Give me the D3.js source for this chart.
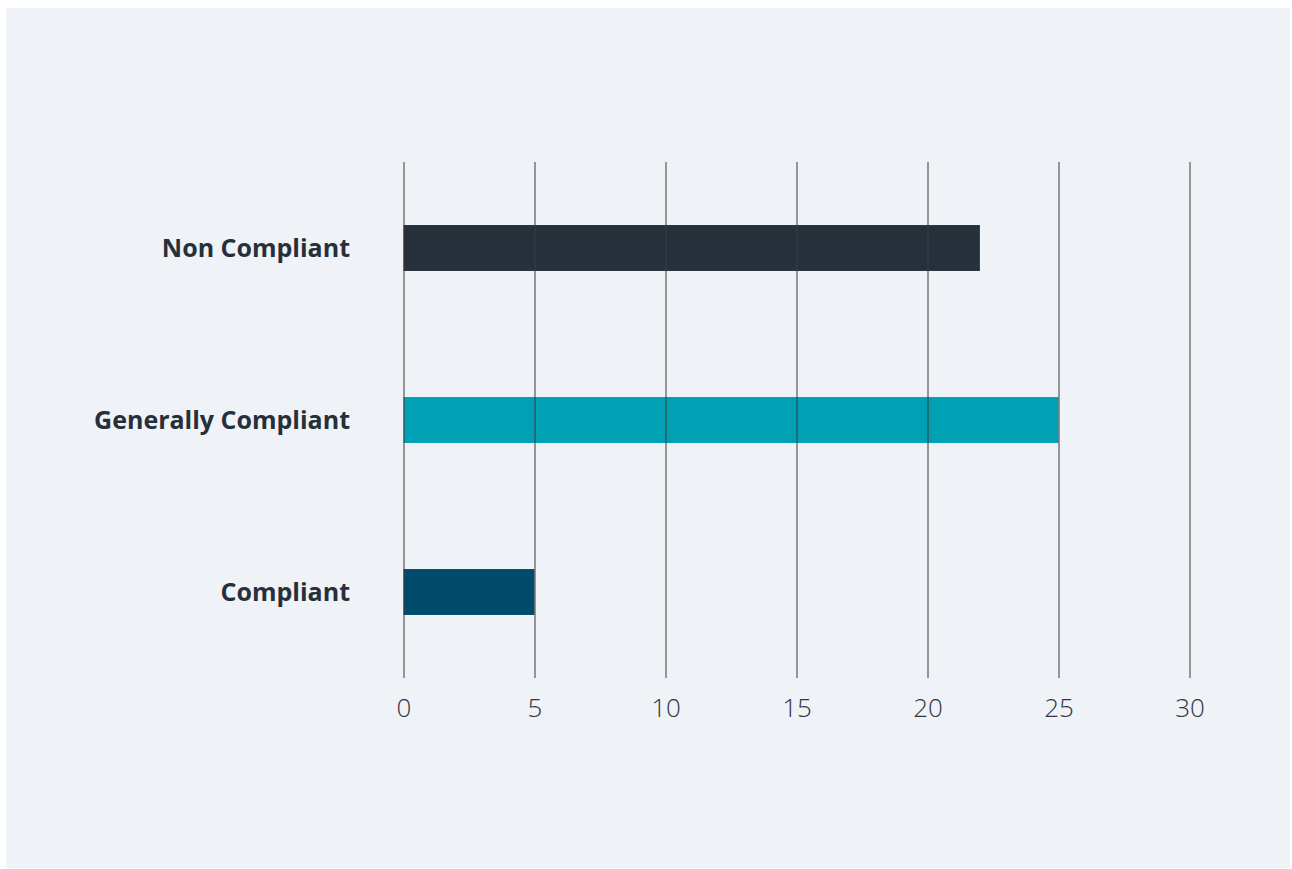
<!DOCTYPE html>
<html>
<head>
<meta charset="utf-8">
<script src="https://cdn.jsdelivr.net/npm/d3@7"></script>
<style>
  body { margin: 0; background: #fff; }
  svg { display: block; }
</style>
</head>
<body>
<svg id="chart" width="1292" height="869"></svg>
<script>
// chart data
var categories = ["Non Compliant", "Generally Compliant", "Compliant"];
var values = [22, 25, 5];
var colors = ["#25303b", "#00a0b5", "#004b6b"];
var ticks = [0, 5, 10, 15, 20, 25, 30];

var svg = d3.select("#chart");

// panel background
svg.append("rect")
    .attr("x", 6).attr("y", 8)
    .attr("width", 1284).attr("height", 860)
    .attr("fill", "#eff2f7");

var plot_left = 403.5, plot_right = 1189.5, plot_top = 162, plot_bottom = 678;

var x = d3.scaleLinear().domain([0, 30]).range([plot_left, plot_right]);
var y = d3.scaleBand().domain(categories).range([plot_top, plot_bottom])
    .paddingInner(0.733).paddingOuter(0.3665);

// bars first, gridlines go over them
svg.selectAll(".bar")
    .data(categories).enter()
    .append("rect")
    .attr("class", "bar")
    .attr("x", x(0))
    .attr("y", function (d) { return y(d); })
    .attr("width", function (d, i) { return x(values[i]) - x(0); })
    .attr("height", y.bandwidth())
    .attr("fill", function (d, i) { return colors[i]; });

// vertical grid + tick labels
var xAxis = d3.axisBottom(x).tickValues(ticks).tickSize(-(plot_bottom - plot_top)).tickPadding(21);
var g = svg.append("g")
    .attr("transform", "translate(0," + plot_bottom + ")")
    .call(xAxis);
g.select(".domain").remove();
g.selectAll(".tick line").attr("stroke", "#3a3a3a").attr("stroke-width", 1);
g.selectAll(".tick text")
    .attr("fill", "#2f3640")
    .style("font-family", "'Open Sans', sans-serif")
    .style("font-size", "26px")
    .style("font-weight", 300);

// category labels
svg.selectAll(".cat")
    .data(categories).enter()
    .append("text")
    .attr("class", "cat")
    .attr("x", 350)
    .attr("y", function (d) { return y(d) + y.bandwidth() / 2; })
    .attr("dy", "0.35em")
    .attr("text-anchor", "end")
    .attr("fill", "#25303b")
    .style("font-family", "'Open Sans', sans-serif")
    .style("font-size", "25px")
    .style("font-weight", 700)
    .text(function (d) { return d; });
</script>
</body>
</html>
